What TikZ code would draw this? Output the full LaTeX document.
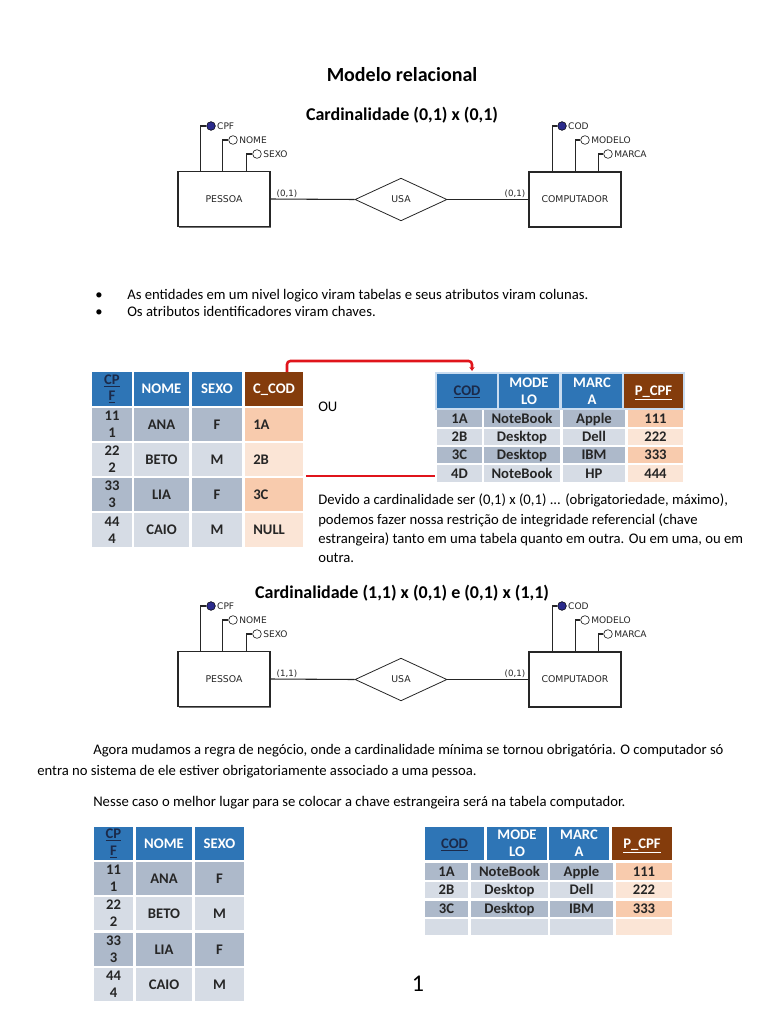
\documentclass[tikz,border=0pt]{standalone}
\usepackage{fontspec}
\setmainfont{Carlito}
\newfontfamily\erfont{DejaVu Sans}
\usetikzlibrary{shapes.geometric,shadows,arrows.meta}
\definecolor{hblue}{HTML}{2E75B6}
\definecolor{hbrown}{HTML}{843C0C}
\definecolor{rowdk}{HTML}{ADB9CA}
\definecolor{rowlt}{HTML}{D6DCE5}
\definecolor{ordk}{HTML}{F8CBAD}
\definecolor{orlt}{HTML}{FBE5D6}
\definecolor{keynavy}{HTML}{1B2A4A}
\definecolor{keyblue}{HTML}{2B2B8C}
\definecolor{redc}{HTML}{E0141B}
\definecolor{hdrline}{HTML}{C9DCF0}
\newcommand\cell[8]{\fill[#6] (#2,#3) rectangle (#4,#5); \node[#7] (#1) at ({(#2+#4)/2},{(#3+#5)/2}) {#8};}
\newcommand\lcell[8]{\fill[#6] (#2,#3) rectangle (#4,#5); \node[#7,anchor=west] (#1) at ({#2+8},{(#3+#5)/2}) {#8};}
\tikzset{
  entity/.style={draw=black!85, line width=0.8pt, fill=white, minimum width=69pt, minimum height=41.25pt, inner sep=0,
    font=\erfont\fontsize{7}{8}\selectfont, text=black!85,
    drop shadow={shadow xshift=1pt, shadow yshift=-1pt, fill=black!55, opacity=1}},
  rel/.style={diamond, draw=black!85, line width=0.6pt, fill=white, minimum width=69pt, minimum height=32pt, aspect=2, inner sep=0,
    font=\erfont\fontsize{7}{8}\selectfont, text=black!85},
  keyattr/.style={circle, draw=black, fill=keyblue, minimum size=6.5pt, inner sep=0},
  attr/.style={circle, draw=black!85, fill=white, line width=0.5pt, minimum size=6.5pt, inner sep=0},
  attrlbl/.style={anchor=west, inner sep=1pt, font=\erfont\fontsize{6.8}{8}\selectfont, text=black!85},
  card/.style={inner sep=0, font=\erfont\fontsize{6.5}{8}\selectfont, text=black!85},
  erline/.style={draw=black!85, line width=0.8pt},
  hdr/.style={text=white, font=\bfseries\fontsize{11}{12}\selectfont, inner sep=0, text height=7pt, text depth=0pt},
  hdrtwo/.style={text=white, align=center, font=\bfseries\fontsize{11}{12.5}\selectfont, inner sep=0},
  body/.style={text=black!85, font=\bfseries\fontsize{11}{12}\selectfont, inner sep=0, text height=7pt, text depth=0pt},
  bodytwo/.style={text=black!85, align=center, font=\bfseries\fontsize{11}{12.5}\selectfont, inner sep=0},
  txt/.style={anchor=base west, inner sep=0, font=\fontsize{11}{13}\selectfont},
  redline/.style={draw=redc, line width=1.9pt}
}
\newcommand\erdiagram[4]{%
\begin{scope}[shift={(0,#2)}]
  \node[entity] (#1pes) at (224,199) {PESSOA};
  \node[entity] (#1comp) at (575,199.5) {COMPUTADOR};
  \node[rel] (#1usa) at (401,199.5) {USA};
  \draw[erline] (#1pes.east) -- (#1usa.west);
  \draw[erline] (#1usa.east) -- (#1comp.west);
  \node[card] (#1cl) at (287,194) {#3};
  \node[card] (#1cr) at (515,194) {#4};
  \node[keyattr] (#1cpf) at (211,126) {};
  \node[attr] (#1nome) at (233,140) {};
  \node[attr] (#1sexo) at (257,154) {};
  \node[attrlbl] (#1cpfl) at (#1cpf.east) {CPF};
  \node[attrlbl] (#1nomel) at (#1nome.east) {NOME};
  \node[attrlbl] (#1sexol) at (#1sexo.east) {SEXO};
  \draw[erline] (#1cpf.west) -| ([xshift=17.25pt]#1pes.north west);
  \draw[erline] (#1nome.west) -| ([xshift=33.75pt]#1pes.north west);
  \draw[erline] (#1sexo.west) -| ([xshift=51.75pt]#1pes.north west);
  \node[keyattr] (#1cod) at (562,126) {};
  \node[attr] (#1mod) at (585,140) {};
  \node[attr] (#1mar) at (608,154) {};
  \node[attrlbl] (#1codl) at (#1cod.east) {COD};
  \node[attrlbl] (#1modl) at (#1mod.east) {MODELO};
  \node[attrlbl] (#1marl) at (#1mar.east) {MARCA};
  \draw[erline] (#1cod.west) -| ([xshift=18pt]#1comp.north west);
  \draw[erline] (#1mod.west) -| ([xshift=35.25pt]#1comp.north west);
  \draw[erline] (#1mar.west) -| ([xshift=52.5pt]#1comp.north west);
\end{scope}}
\begin{document}
\begin{tikzpicture}[x=0.75pt,y=-0.75pt]
\useasboundingbox (0,0) rectangle (768,1024);
\fill[white] (0,0) rectangle (768,1024);

% titles
\node[anchor=base, inner sep=0, font=\bfseries\fontsize{15}{18}\selectfont] (title) at (402,82) {Modelo relacional};
\node[anchor=base, inner sep=0, font=\bfseries\fontsize{13.5}{16}\selectfont] (card1) at (402,120) {Cardinalidade (0,1) x (0,1)};
\node[anchor=base, inner sep=0, font=\bfseries\fontsize{13.5}{16}\selectfont] (card2) at (402,598) {Cardinalidade (1,1) x (0,1) e (0,1) x (1,1)};

\erdiagram{a}{0}{(0,1)}{(0,1)}
\erdiagram{b}{480}{(1,1)}{(0,1)}

% bullets
\node[anchor=base, inner sep=0, font=\fontsize{11}{13}\selectfont] (b1) at (99,299) {•};
\node[anchor=base, inner sep=0, font=\fontsize{11}{13}\selectfont] (b2) at (99,316) {•};
\node[txt] (l1) at (127,299) {As entidades em um nivel logico viram tabelas e seus atributos viram colunas.};
\node[txt] (l2) at (127,316) {Os atributos identificadores viram chaves.};

% table PESSOA (top)
\cell{pa0}{92}{372}{132}{406}{hblue}{hdrtwo,text=keynavy}{\underline{CP}\\\underline{F}}
\cell{pb0}{134}{372}{189}{406}{hblue}{hdr}{NOME}
\cell{pc0}{192}{372}{242}{406}{hblue}{hdr}{SEXO}
\cell{pd0}{245}{372}{303}{406}{hbrown}{hdr}{C\_COD}
\cell{pa1}{92}{408}{132}{441}{rowdk}{bodytwo}{11\\1}
\cell{pb1}{134}{408}{189}{441}{rowdk}{body}{ANA}
\cell{pc1}{192}{408}{242}{441}{rowdk}{body}{F}
\lcell{pd1}{245}{408}{303}{441}{ordk}{body}{1A}
\cell{pa2}{92}{443}{132}{476}{rowlt}{bodytwo}{22\\2}
\cell{pb2}{134}{443}{189}{476}{rowlt}{body}{BETO}
\cell{pc2}{192}{443}{242}{476}{rowlt}{body}{M}
\lcell{pd2}{245}{443}{303}{476}{orlt}{body}{2B}
\cell{pa3}{92}{478}{132}{511}{rowdk}{bodytwo}{33\\3}
\cell{pb3}{134}{478}{189}{511}{rowdk}{body}{LIA}
\cell{pc3}{192}{478}{242}{511}{rowdk}{body}{F}
\lcell{pd3}{245}{478}{303}{511}{ordk}{body}{3C}
\cell{pa4}{92}{513}{132}{547}{rowlt}{bodytwo}{44\\4}
\cell{pb4}{134}{513}{189}{547}{rowlt}{body}{CAIO}
\cell{pc4}{192}{513}{242}{547}{rowlt}{body}{M}
\lcell{pd4}{245}{513}{303}{547}{orlt}{body}{NULL}

\node[txt] (ou) at (318,411) {OU};

% table COMPUTADOR (top)
\fill[hdrline] (435,372) rectangle (685,410);
\cell{ca0}{437}{374}{497}{408}{hblue}{hdr,text=keynavy}{\underline{COD}}
\cell{cb0}{499}{374}{559}{408}{hblue}{hdrtwo}{MODE\\LO}
\cell{cc0}{562}{374}{622}{408}{hblue}{hdrtwo}{MARC\\A}
\cell{cd0}{624}{374}{683}{408}{hbrown}{hdr}{\underline{P\_CPF}}
\cell{ca1}{437}{410}{482}{427}{rowdk}{body}{1A}
\cell{cb1}{484}{410}{560}{427}{rowdk}{body}{NoteBook}
\cell{cc1}{563}{410}{625}{427}{rowdk}{body}{Apple}
\cell{cd1}{628}{410}{683}{427}{ordk}{body}{111}
\cell{ca2}{437}{429}{482}{445}{rowlt}{body}{2B}
\cell{cb2}{484}{429}{560}{445}{rowlt}{body}{Desktop}
\cell{cc2}{563}{429}{625}{445}{rowlt}{body}{Dell}
\cell{cd2}{628}{429}{683}{445}{orlt}{body}{222}
\cell{ca3}{437}{447}{482}{463}{rowdk}{body}{3C}
\cell{cb3}{484}{447}{560}{463}{rowdk}{body}{Desktop}
\cell{cc3}{563}{447}{625}{463}{rowdk}{body}{IBM}
\cell{cd3}{628}{447}{683}{463}{ordk}{body}{333}
\cell{ca4}{437}{465}{482}{482}{rowlt}{body}{4D}
\cell{cb4}{484}{465}{560}{482}{rowlt}{body}{NoteBook}
\cell{cc4}{563}{465}{625}{482}{rowlt}{body}{HP}
\cell{cd4}{628}{465}{683}{482}{orlt}{body}{444}

% red connectors
\coordinate (ra) at (287,372);
\coordinate (rc) at (472,371);
\coordinate (rd) at (306,476);
\coordinate (re) at (435,476);
\draw[redline, rounded corners=2.5pt, -{Stealth[length=3pt,width=4pt]}] (ra) -- ++(0,-11) -| (rc);
\draw[redline] (rd) -- (re);

% paragraph
\node[txt] (p1) at (318,504) {Devido a cardinalidade ser (0,1) x (0,1) ... (obrigatoriedade, máximo),};
\node[txt] (p2) at (318,524) {podemos fazer nossa restrição de integridade referencial (chave};
\node[txt] (p3) at (318,543) {estrangeira) tanto em uma tabela quanto em outra. Ou em uma, ou em};
\node[txt] (p4) at (318,562) {outra.};

\node[txt] (q1) at (93,754) {Agora mudamos a regra de negócio, onde a cardinalidade mínima se tornou obrigatória. O computador só};
\node[txt] (q2) at (37,775) {entra no sistema de ele estiver obrigatoriamente associado a uma pessoa.};
\node[txt] (q3) at (93,806) {Nesse caso o melhor lugar para se colocar a chave estrangeira será na tabela computador.};

% table PESSOA (bottom)
\cell{qa0}{94}{827}{133}{860}{hblue}{hdrtwo,text=keynavy}{\underline{CP}\\\underline{F}}
\cell{qb0}{136}{827}{192}{860}{hblue}{hdr}{NOME}
\cell{qc0}{195}{827}{244}{860}{hblue}{hdr}{SEXO}
\cell{qa1}{94}{862}{133}{895}{rowdk}{bodytwo}{11\\1}
\cell{qb1}{136}{862}{192}{895}{rowdk}{body}{ANA}
\cell{qc1}{195}{862}{244}{895}{rowdk}{body}{F}
\cell{qa2}{94}{897}{133}{930}{rowlt}{bodytwo}{22\\2}
\cell{qb2}{136}{897}{192}{930}{rowlt}{body}{BETO}
\cell{qc2}{195}{897}{244}{930}{rowlt}{body}{M}
\cell{qa3}{94}{933}{133}{966}{rowdk}{bodytwo}{33\\3}
\cell{qb3}{136}{933}{192}{966}{rowdk}{body}{LIA}
\cell{qc3}{195}{933}{244}{966}{rowdk}{body}{F}
\cell{qa4}{94}{968}{133}{1001}{rowlt}{bodytwo}{44\\4}
\cell{qb4}{136}{968}{192}{1001}{rowlt}{body}{CAIO}
\cell{qc4}{195}{968}{244}{1001}{rowlt}{body}{M}

% table COMPUTADOR (bottom)
\cell{da0}{425}{827}{484}{860}{hblue}{hdr,text=keynavy}{\underline{COD}}
\cell{db0}{487}{827}{547}{860}{hblue}{hdrtwo}{MODE\\LO}
\cell{dc0}{549}{827}{609}{860}{hblue}{hdrtwo}{MARC\\A}
\cell{dd0}{612}{827}{672}{860}{hbrown}{hdr}{\underline{P\_CPF}}
\cell{da1}{425}{863}{468}{880}{rowdk}{body}{1A}
\cell{db1}{471}{863}{548}{880}{rowdk}{body}{NoteBook}
\cell{dc1}{550}{863}{613}{880}{rowdk}{body}{Apple}
\cell{dd1}{616}{863}{672}{880}{ordk}{body}{111}
\cell{da2}{425}{882}{468}{898}{rowlt}{body}{2B}
\cell{db2}{471}{882}{548}{898}{rowlt}{body}{Desktop}
\cell{dc2}{550}{882}{613}{898}{rowlt}{body}{Dell}
\cell{dd2}{616}{882}{672}{898}{orlt}{body}{222}
\cell{da3}{425}{901}{468}{917}{rowdk}{body}{3C}
\cell{db3}{471}{901}{548}{917}{rowdk}{body}{Desktop}
\cell{dc3}{550}{901}{613}{917}{rowdk}{body}{IBM}
\cell{dd3}{616}{901}{672}{917}{ordk}{body}{333}
\fill[rowlt] (425,919) rectangle (468,935);
\fill[rowlt] (471,919) rectangle (548,935);
\fill[rowlt] (550,919) rectangle (613,935);
\fill[orlt] (616,919) rectangle (672,935);

% page number
\node[anchor=base, inner sep=0, font=\fontsize{18}{20}\selectfont] (pg) at (418,991) {1};
\end{tikzpicture}
\end{document}
